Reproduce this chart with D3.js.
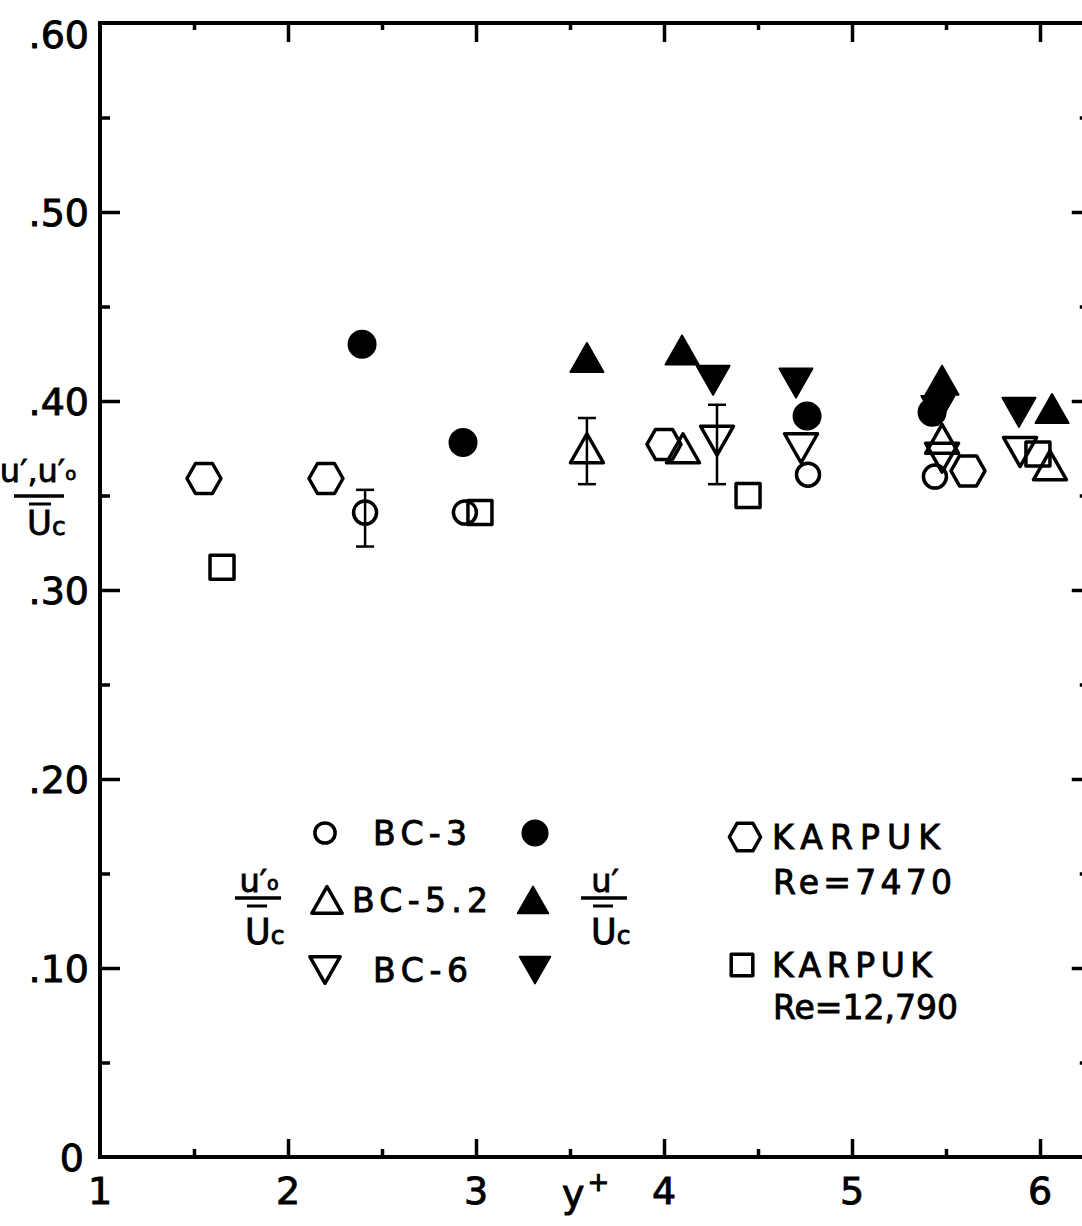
<!DOCTYPE html>
<html><head><meta charset="utf-8">
<script src="https://cdn.jsdelivr.net/npm/d3@7"></script>
<style>body{margin:0;background:#fff} svg{display:block}</style>
</head><body>
<svg id="c" width="1082" height="1226"></svg>
<script>
// ---------- data ----------
const xTicks = [1, 2, 3, 4, 5, 6];
const xTickLabels = ["1", "2", "3", "4", "5", "6"];
const xMinorTicks = [1.5, 2.5, 3.5, 4.5, 5.5];
const yTicks = [0, 0.1, 0.2, 0.3, 0.4, 0.5, 0.6];
const yTickLabels = ["0", ".10", ".20", ".30", ".40", ".50", ".60"];
const yMinorTicks = [0.05, 0.15, 0.25, 0.35, 0.45, 0.55];

// KARPUK Re=7470 (hexagon)
const karpuk7470X = [1.553, 2.202, 4.000, 5.617];
const karpuk7470Y = [0.359, 0.359, 0.377, 0.363];
// KARPUK Re=12,790 (square)
const karpuk12790X = [1.649, 3.021, 4.447, 5.989];
const karpuk12790Y = [0.312, 0.341, 0.350, 0.372];
// BC-3 u0'/Uc (open circle), u'/Uc (filled circle)
const bc3X_open = [2.410, 2.941, 4.766, 5.441];
const bc3Y_open = [0.341, 0.341, 0.361, 0.360];
const bc3X_fill = [2.394, 2.931, 4.761, 5.426];
const bc3Y_fill = [0.430, 0.378, 0.392, 0.394];
// BC-5.2 (triangle up)
const bc52X_open = [3.590, 4.101, 5.479, 6.053];
const bc52Y_open = [0.375, 0.375, 0.380, 0.366];
const bc52X_fill = [3.590, 4.096, 5.479, 6.064];
const bc52Y_fill = [0.423, 0.427, 0.411, 0.396];
// BC-6 (triangle down)
const bc6X_open = [4.282, 4.729, 5.479, 5.894];
const bc6Y_open = [0.379, 0.375, 0.370, 0.373];
const bc6X_fill = [4.261, 4.702, 5.457, 5.888];
const bc6Y_fill = [0.411, 0.4095, 0.395, 0.394];
// error bars
const errX = [2.410, 3.590, 4.282];
const errLow = [0.323, 0.356, 0.356];
const errHigh = [0.353, 0.391, 0.398];

// ---------- setup ----------
const FONT = "DejaVu Sans";
const svg = d3.select("#c");
const x = d3.scaleLinear().domain([1, 6]).range([100, 1040]);
const y = d3.scaleLinear().domain([0, 0.6]).range([1157, 23]);
const xEnd = 6.27;

const frame = svg.append("g").attr("stroke", "#000").attr("fill", "none");
frame.append("line").attr("x1", x(1)).attr("x2", x(xEnd)).attr("y1", y(0)).attr("y2", y(0)).attr("stroke-width", 4);
frame.append("line").attr("x1", x(1)).attr("x2", x(xEnd)).attr("y1", y(0.6)).attr("y2", y(0.6)).attr("stroke-width", 4);
frame.append("line").attr("x1", x(1)).attr("x2", x(1)).attr("y1", y(0) + 2).attr("y2", y(0.6) - 2).attr("stroke-width", 4);
frame.append("line").attr("x1", x(xEnd)).attr("x2", x(xEnd)).attr("y1", y(0)).attr("y2", y(0.6)).attr("stroke-width", 4);

function styleAxis(g) {
  g.select(".domain").remove();
  g.selectAll(".tick line").attr("stroke", "#000").attr("stroke-width", 3.5);
  g.selectAll(".tick text").remove();
}
// bottom ticks (inward)
svg.append("g").attr("transform", `translate(0,${y(0)})`)
  .call(d3.axisBottom(x).tickValues(xTicks.filter(v => v > 1)).tickSize(-18).tickSizeOuter(0)).call(styleAxis);
svg.append("g").attr("transform", `translate(0,${y(0)})`)
  .call(d3.axisBottom(x).tickValues(xMinorTicks).tickSize(-8).tickSizeOuter(0)).call(styleAxis);
// top ticks (inward)
svg.append("g").attr("transform", `translate(0,${y(0.6)})`)
  .call(d3.axisTop(x).tickValues(xTicks.filter(v => v > 1)).tickSize(-19).tickSizeOuter(0)).call(styleAxis);
svg.append("g").attr("transform", `translate(0,${y(0.6)})`)
  .call(d3.axisTop(x).tickValues(xMinorTicks).tickSize(-7).tickSizeOuter(0)).call(styleAxis);
// left ticks (inward)
svg.append("g").attr("transform", `translate(${x(1)},0)`)
  .call(d3.axisLeft(y).tickValues(yTicks.filter(v => v > 0 && v < 0.6)).tickSize(-20).tickSizeOuter(0)).call(styleAxis);
svg.append("g").attr("transform", `translate(${x(1)},0)`)
  .call(d3.axisLeft(y).tickValues(yMinorTicks).tickSize(-10).tickSizeOuter(0)).call(styleAxis);
// right ticks (inward)
svg.append("g").attr("transform", `translate(${x(xEnd)},0)`)
  .call(d3.axisRight(y).tickValues(yTicks.filter(v => v > 0 && v < 0.6)).tickSize(-19).tickSizeOuter(0)).call(styleAxis);
svg.append("g").attr("transform", `translate(${x(xEnd)},0)`)
  .call(d3.axisRight(y).tickValues(yMinorTicks).tickSize(-11).tickSizeOuter(0)).call(styleAxis);

// tick labels
const labelG = svg.append("g").attr("font-family", FONT).attr("font-size", 38).attr("fill", "#000")
  .attr("stroke", "#000").attr("stroke-width", 0.9);
xTicks.forEach((v, i) => {
  labelG.append("text").attr("x", x(v)).attr("y", 1204).attr("text-anchor", "middle").text(xTickLabels[i]);
});
yTicks.forEach((v, i) => {
  labelG.append("text").attr("x", v === 0 ? 84 : 89).attr("y", Math.max(y(v), 34)).attr("dy", "0.36em")
    .attr("text-anchor", "end").text(yTickLabels[i]);
});
// x axis title
const xt = labelG.append("text").attr("x", 562).attr("y", 1207);
xt.append("tspan").text("y");
xt.append("tspan").attr("dy", -16).attr("font-size", 26).attr("dx", 3).text("+");

// y axis title (fraction)
const yt = svg.append("g").attr("font-family", FONT).attr("fill", "#000").attr("stroke", "#000").attr("stroke-width", 0.8);
const yn = yt.append("text").attr("x", 38).attr("y", 482).attr("text-anchor", "middle").attr("font-size", 32);
yn.append("tspan").text("u′,u′");
yn.append("tspan").attr("font-size", 18).attr("dy", -2).text("o");
yt.append("line").attr("x1", 14).attr("x2", 64).attr("y1", 496).attr("y2", 496).attr("stroke-width", 3.5);
const yd = yt.append("text").attr("x", 27).attr("y", 535).attr("font-size", 34);
yd.append("tspan").text("U");
yd.append("tspan").attr("font-size", 25).text("c");
yt.append("line").attr("x1", 29).attr("x2", 51).attr("y1", 504).attr("y2", 504).attr("stroke-width", 3);

// ---------- markers ----------
function markerPath(type, s) {
  const k = s || 1;
  if (type === "hex") {
    const w = 17 * k, h = 15 * k;
    return `M${-w},0L${-w / 2},${-h}L${w / 2},${-h}L${w},0L${w / 2},${h}L${-w / 2},${h}Z`;
  }
  if (type === "square") { const a = 12 * k; return `M${-a},${-a}H${a}V${a}H${-a}Z`; }
  if (type === "up") { const w = 16.5 * k, h = 14.5 * k; return `M0,${-h}L${w},${h}L${-w},${h}Z`; }
  if (type === "down") { const w = 16.5 * k, h = 14.5 * k; return `M${-w},${-h}L${w},${-h}L0,${h}Z`; }
  return null;
}
function drawMarker(g, type, cx, cy, filled, k) {
  k = k || 1;
  let el;
  if (type === "circle") {
    el = g.append("circle").attr("cx", cx).attr("cy", cy).attr("r", filled ? 13.5 * k : 11.5 * k);
  } else {
    el = g.append("path").attr("transform", `translate(${cx},${cy})`).attr("d", markerPath(type, k));
  }
  if (filled) el.attr("fill", "#000").attr("stroke", "#000").attr("stroke-width", 2).attr("stroke-linejoin", "round");
  else el.attr("fill", "none").attr("stroke", "#000").attr("stroke-width", 3.5).attr("stroke-linejoin", "round");
}

const pts = svg.append("g");
const seriesList = [
  { xs: karpuk7470X, ys: karpuk7470Y, type: "hex", filled: false },
  { xs: karpuk12790X, ys: karpuk12790Y, type: "square", filled: false },
  { xs: bc3X_open, ys: bc3Y_open, type: "circle", filled: false },
  { xs: bc3X_fill, ys: bc3Y_fill, type: "circle", filled: true },
  { xs: bc52X_open, ys: bc52Y_open, type: "up", filled: false },
  { xs: bc52X_fill, ys: bc52Y_fill, type: "up", filled: true },
  { xs: bc6X_open, ys: bc6Y_open, type: "down", filled: false },
  { xs: bc6X_fill, ys: bc6Y_fill, type: "down", filled: true }
];
seriesList.forEach(s => s.xs.forEach((xv, i) => drawMarker(pts, s.type, x(xv), y(s.ys[i]), s.filled)));

// error bars
const eb = svg.append("g").attr("stroke", "#000").attr("stroke-width", 2.5);
errX.forEach((xv, i) => {
  eb.append("line").attr("x1", x(xv)).attr("x2", x(xv)).attr("y1", y(errLow[i])).attr("y2", y(errHigh[i]));
  [errLow[i], errHigh[i]].forEach(v => eb.append("line").attr("x1", x(xv) - 9).attr("x2", x(xv) + 9).attr("y1", y(v)).attr("y2", y(v)));
});

// ---------- legend ----------
const lg = svg.append("g").attr("font-family", FONT).attr("fill", "#000").attr("font-size", 33);
drawMarker(lg, "circle", 325, 833, false, 0.88);
drawMarker(lg, "circle", 535, 833, true, 0.93);
drawMarker(lg, "up", 327, 900, false, 0.92);
drawMarker(lg, "up", 533, 900, true, 0.92);
drawMarker(lg, "down", 325, 970, false, 0.92);
drawMarker(lg, "down", 535, 970, true, 0.92);
const lt = lg.append("g").attr("stroke", "#000").attr("stroke-width", 0.9);
lt.append("text").attr("x", 373).attr("y", 845).attr("textLength", 94).attr("lengthAdjust", "spacing").text("BC-3");
lt.append("text").attr("x", 352).attr("y", 912).attr("textLength", 136).attr("lengthAdjust", "spacing").text("BC-5.2");
lt.append("text").attr("x", 373).attr("y", 982).attr("textLength", 95).attr("lengthAdjust", "spacing").text("BC-6");

// legend fractions
function fraction(cx, withSub) {
  const n = lt.append("text").attr("x", cx).attr("y", 892).attr("text-anchor", "middle").attr("font-size", 32);
  n.append("tspan").text("u′");
  if (withSub) n.append("tspan").attr("font-size", 19).attr("dy", -2).text("o");
  lt.append("line").attr("x1", cx - 24).attr("x2", cx + 22).attr("y1", 898).attr("y2", 898).attr("stroke-width", 3.5);
  lt.append("line").attr("x1", cx - 12).attr("x2", cx + 8).attr("y1", 906).attr("y2", 906).attr("stroke-width", 3);
  const d = lt.append("text").attr("x", cx - 14).attr("y", 944).attr("font-size", 35);
  d.append("tspan").text("U");
  d.append("tspan").attr("font-size", 25).text("c");
}
fraction(259, true);
fraction(605, false);

// KARPUK legend
drawMarker(lg, "hex", 745, 837, false, 0.92);
drawMarker(lg, "square", 742, 965, false, 0.9);
lt.append("text").attr("x", 772).attr("y", 849).attr("textLength", 168).attr("lengthAdjust", "spacing").text("KARPUK");
lt.append("text").attr("x", 773).attr("y", 894).attr("textLength", 179).attr("lengthAdjust", "spacing").text("Re=7470");
lt.append("text").attr("x", 772).attr("y", 977).attr("textLength", 160).attr("lengthAdjust", "spacing").text("KARPUK");
lt.append("text").attr("x", 773).attr("y", 1019).attr("textLength", 185).attr("lengthAdjust", "spacing").text("Re=12,790");
</script>
</body></html>
